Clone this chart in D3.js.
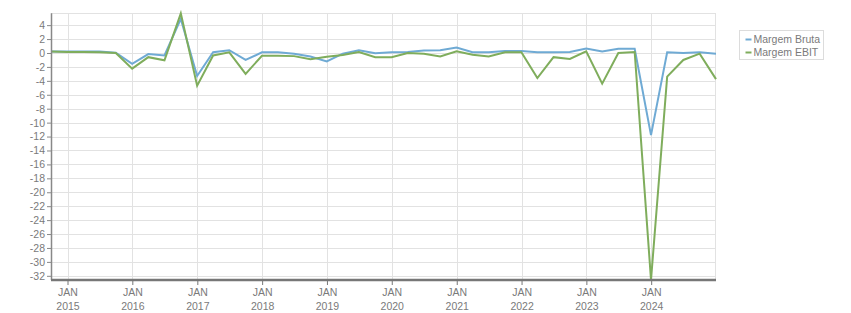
<!DOCTYPE html>
<html>
<head>
<meta charset="utf-8">
<script src="https://cdn.jsdelivr.net/npm/d3@7"></script>
<style>
  html, body { margin: 0; padding: 0; background: #fff; }
  svg { display: block; font-family: "Liberation Sans", Arial, sans-serif; }
</style>
</head>
<body>
<svg id="chart" width="851" height="313"></svg>
<script>
// quarter end dates (Q3 2014 .. Q4 2024)
const quarterEnds = [
  "2014-09-30", "2014-12-31",
  "2015-03-31", "2015-06-30", "2015-09-30", "2015-12-31",
  "2016-03-31", "2016-06-30", "2016-09-30", "2016-12-31",
  "2017-03-31", "2017-06-30", "2017-09-30", "2017-12-31",
  "2018-03-31", "2018-06-30", "2018-09-30", "2018-12-31",
  "2019-03-31", "2019-06-30", "2019-09-30", "2019-12-31",
  "2020-03-31", "2020-06-30", "2020-09-30", "2020-12-31",
  "2021-03-31", "2021-06-30", "2021-09-30", "2021-12-31",
  "2022-03-31", "2022-06-30", "2022-09-30", "2022-12-31",
  "2023-03-31", "2023-06-30", "2023-09-30", "2023-12-31",
  "2024-03-31", "2024-06-30", "2024-09-30", "2024-12-31"
];

const margemBruta = [
  0.2, 0.2,
  0.2, 0.2, 0.05, -1.55,
  -0.15, -0.35, 4.9, -3.3,
  0.1, 0.4, -1.0, 0.1,
  0.1, -0.1, -0.5, -1.2,
  -0.1, 0.4, -0.05, 0.1,
  0.15, 0.35, 0.4, 0.8,
  0.1, 0.1, 0.3, 0.3,
  0.1, 0.1, 0.15, 0.65,
  0.2, 0.6, 0.6, -11.8,
  0.1, 0.0, 0.1, -0.1
];

const margemEbit = [
  0.2, 0.15,
  0.15, 0.1, 0.0, -2.25,
  -0.6, -1.05, 5.7, -4.7,
  -0.35, 0.1, -3.0, -0.4,
  -0.4, -0.45, -0.9, -0.55,
  -0.3, 0.15, -0.6, -0.6,
  0.0, -0.1, -0.5, 0.25,
  -0.25, -0.5, 0.1, 0.1,
  -3.6, -0.6, -0.85, 0.25,
  -4.4, 0.0, 0.15, -32.6,
  -3.4, -1.0, -0.1, -3.75
];

const seriesNames = ["Margem Bruta", "Margem EBIT"];
const seriesColors = ["#6faad4", "#7fad5c"];
const yTickValues = d3.range(-32, 5, 2);

const parse = d3.timeParse("%Y-%m-%d");
const dates = quarterEnds.map(parse);
const series = [margemBruta, margemEbit].map((vals, i) => ({
  name: seriesNames[i],
  color: seriesColors[i],
  points: vals.map((v, j) => ({ date: dates[j], value: v }))
}));

const plot = { left: 51, right: 716, top: 13.3, bottom: 280 };
const textColor = "#7a7a7a";
const gridColor = "#e2e2e2";

const svg = d3.select("#chart");

const x = d3.scaleTime()
  .domain(d3.extent(dates))
  .range([plot.left, plot.right]);

const allVals = margemBruta.concat(margemEbit);
const y = d3.scaleLinear()
  .domain([d3.min(allVals), d3.max(allVals)])
  .range([plot.bottom, plot.top]);

const yearTicks = d3.timeYear.every(1).range(new Date(2015, 0, 1), new Date(2025, 0, 1));

// grid
const grid = svg.append("g");
grid.selectAll("line.h")
  .data(yTickValues)
  .enter()
  .append("line")
  .attr("x1", plot.left).attr("x2", plot.right)
  .attr("y1", d => Math.round(y(d)) + 0.5).attr("y2", d => Math.round(y(d)) + 0.5)
  .attr("stroke", gridColor);
grid.selectAll("line.v")
  .data(yearTicks)
  .enter()
  .append("line")
  .attr("x1", d => Math.round(x(d)) + 0.5).attr("x2", d => Math.round(x(d)) + 0.5)
  .attr("y1", plot.top).attr("y2", plot.bottom)
  .attr("stroke", gridColor);
// top and right border
grid.append("line")
  .attr("x1", plot.left).attr("x2", plot.right)
  .attr("y1", Math.round(plot.top) + 0.5).attr("y2", Math.round(plot.top) + 0.5)
  .attr("stroke", gridColor);
grid.append("line")
  .attr("x1", plot.right - 0.5).attr("x2", plot.right - 0.5)
  .attr("y1", plot.top).attr("y2", plot.bottom)
  .attr("stroke", gridColor);

// lines
const line = d3.line()
  .x(d => x(d.date))
  .y(d => y(d.value));

svg.append("g")
  .selectAll("path")
  .data(series)
  .enter()
  .append("path")
  .attr("d", d => line(d.points))
  .attr("fill", "none")
  .attr("stroke", d => d.color)
  .attr("stroke-width", 2)
  .attr("stroke-linejoin", "miter");

// y axis
const yAxis = svg.append("g")
  .attr("transform", `translate(${plot.left},0)`)
  .call(d3.axisLeft(y).tickValues(yTickValues).tickSize(4).tickPadding(2).tickFormat(d3.format("d")));
yAxis.select(".domain").attr("stroke", "#888").attr("stroke-width", 1.5)
  .attr("d", `M0.5,${plot.top}V${plot.bottom}`);
yAxis.selectAll(".tick line").attr("stroke", "#888");
yAxis.selectAll(".tick text")
  .attr("fill", textColor)
  .style("font-size", "10.5px")
  .text(d => d < 0 ? "-" + Math.abs(d) : d);

// x axis
const xAxis = svg.append("g")
  .attr("transform", `translate(0,${plot.bottom})`)
  .call(d3.axisBottom(x).tickValues(yearTicks).tickSize(5).tickFormat(() => ""));
xAxis.select(".domain").attr("stroke", "#777").attr("stroke-width", 2.5)
  .attr("d", `M${plot.left},0H${plot.right}`);
xAxis.selectAll(".tick line").attr("stroke", "#777");
xAxis.selectAll(".tick text").remove();
const xt = xAxis.selectAll(".tick")
  .append("text")
  .attr("fill", textColor)
  .attr("text-anchor", "middle")
  .style("font-size", "10.5px");
xt.append("tspan").attr("x", 0).attr("y", 16).text("JAN");
xt.append("tspan").attr("x", 0).attr("y", 30).text(d => d3.timeFormat("%Y")(d));

// legend
const legend = svg.append("g").attr("transform", "translate(739.5,30.5)");
legend.append("rect")
  .attr("width", 84).attr("height", 29)
  .attr("fill", "#fff").attr("stroke", "#dcdcdc");
const items = legend.selectAll("g.item")
  .data(series)
  .enter()
  .append("g")
  .attr("transform", (d, i) => `translate(6,${9 + i * 13})`);
items.append("line")
  .attr("x1", 0).attr("x2", 6)
  .attr("stroke", d => d.color).attr("stroke-width", 2);
items.append("text")
  .attr("x", 8).attr("dy", "0.35em")
  .attr("fill", textColor)
  .style("font-size", "10.5px")
  .text(d => d.name);
</script>
</body>
</html>
